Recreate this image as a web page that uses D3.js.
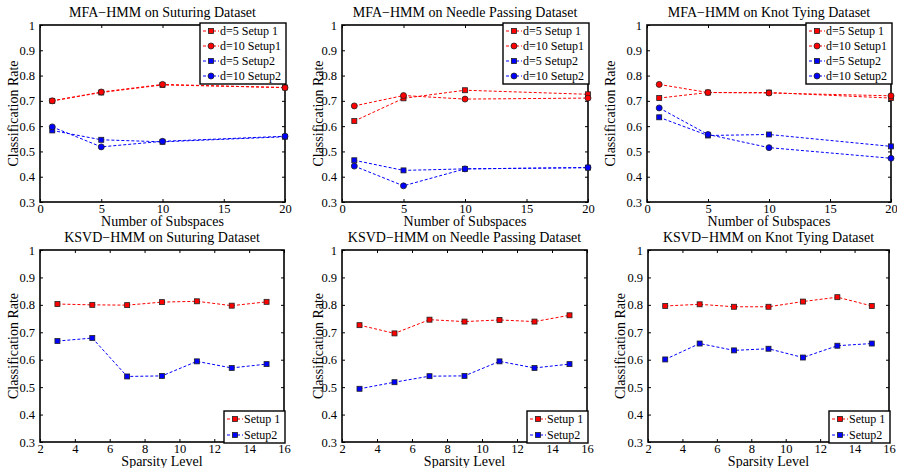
<!DOCTYPE html>
<html>
<head>
<meta charset="utf-8">
<script src="https://cdn.jsdelivr.net/npm/d3@7"></script>
<style>
  body { margin: 0; background: #fff; }
  text { font-family: "Liberation Serif", "Times New Roman", serif; fill: #000; }
</style>
</head>
<body>
<svg id="fig" width="897" height="468"></svg>
<script>
// x values
const subspaces = [1, 5, 10, 20];
const sparsity = [3, 5, 7, 9, 11, 13, 15];

const subspaceTicks = [0, 5, 10, 15, 20];
const sparsityTicks = [2, 4, 6, 8, 10, 12, 14, 16];
const rateTicks = [0.3, 0.4, 0.5, 0.6, 0.7, 0.8, 0.9, 1];

// MFA-HMM series
const mfaNames = ["d=5 Setup 1", "d=10 Setup1", "d=5 Setup2", "d=10 Setup2"];

const suturingD5S1 = [0.700, 0.733, 0.763, 0.753];
const suturingD10S1 = [0.700, 0.735, 0.765, 0.752];
const suturingD5S2 = [0.583, 0.546, 0.538, 0.558];
const suturingD10S2 = [0.597, 0.518, 0.540, 0.560];

const needleD5S1 = [0.620, 0.710, 0.742, 0.726];
const needleD10S1 = [0.680, 0.721, 0.707, 0.711];
const needleD5S2 = [0.465, 0.425, 0.431, 0.436];
const needleD10S2 = [0.442, 0.364, 0.431, 0.436];

const knotD5S1 = [0.711, 0.733, 0.733, 0.711];
const knotD10S1 = [0.765, 0.733, 0.731, 0.720];
const knotD5S2 = [0.635, 0.563, 0.567, 0.520];
const knotD10S2 = [0.672, 0.567, 0.515, 0.473];

// KSVD-HMM series
const ksvdNames = ["Setup 1", "Setup2"];

const ksvdSuturingS1 = [0.803, 0.800, 0.799, 0.810, 0.813, 0.797, 0.811];
const ksvdSuturingS2 = [0.668, 0.679, 0.539, 0.541, 0.594, 0.570, 0.584];

const ksvdNeedleS1 = [0.726, 0.696, 0.746, 0.739, 0.745, 0.739, 0.762];
const ksvdNeedleS2 = [0.494, 0.518, 0.540, 0.541, 0.594, 0.570, 0.584];

const ksvdKnotS1 = [0.796, 0.802, 0.793, 0.793, 0.812, 0.828, 0.796];
const ksvdKnotS2 = [0.601, 0.659, 0.634, 0.640, 0.608, 0.651, 0.659];

const red = "#ff0000", blue = "#0000ff";

const panels = [
  { title: "MFA\u2212HMM on Suturing Dataset", box: [40, 25, 285, 202], ylabX: 13,
    x: subspaces, xTicks: subspaceTicks, xDomain: [0, 20], xlabel: "Number of Subspaces",
    names: mfaNames, series: [suturingD5S1, suturingD10S1, suturingD5S2, suturingD10S2] },
  { title: "MFA\u2212HMM on Needle Passing Dataset", box: [342, 25, 588, 202], ylabX: 318,
    x: subspaces, xTicks: subspaceTicks, xDomain: [0, 20], xlabel: "Number of Subspaces",
    names: mfaNames, series: [needleD5S1, needleD10S1, needleD5S2, needleD10S2] },
  { title: "MFA\u2212HMM on Knot Tying Dataset", box: [647, 25, 891, 202], ylabX: 610,
    x: subspaces, xTicks: subspaceTicks, xDomain: [0, 20], xlabel: "Number of Subspaces",
    names: mfaNames, series: [knotD5S1, knotD10S1, knotD5S2, knotD10S2] },
  { title: "KSVD\u2212HMM on Suturing Dataset", box: [40, 250, 284, 442], ylabX: 13,
    x: sparsity, xTicks: sparsityTicks, xDomain: [2, 16], xlabel: "Sparsity Level",
    names: ksvdNames, series: [ksvdSuturingS1, ksvdSuturingS2] },
  { title: "KSVD\u2212HMM on Needle Passing Dataset", box: [342, 250, 587, 442], ylabX: 318,
    x: sparsity, xTicks: sparsityTicks, xDomain: [2, 16], xlabel: "Sparsity Level",
    names: ksvdNames, series: [ksvdNeedleS1, ksvdNeedleS2] },
  { title: "KSVD\u2212HMM on Knot Tying Dataset", box: [648, 250, 889, 442], ylabX: 620,
    x: sparsity, xTicks: sparsityTicks, xDomain: [2, 16], xlabel: "Sparsity Level",
    names: ksvdNames, series: [ksvdKnotS1, ksvdKnotS2] }
];

const svg = d3.select("#fig");

const drawMarker = (g, kind, color, cx, cy) => {
  if (kind === "circle") {
    g.append("circle").attr("cx", cx).attr("cy", cy).attr("r", 3)
      .attr("fill", color).attr("stroke", "#222").attr("stroke-width", 0.8);
  } else {
    g.append("rect").attr("x", cx - 2.5).attr("y", cy - 2.5).attr("width", 5).attr("height", 5)
      .attr("fill", color).attr("stroke", "#222").attr("stroke-width", 0.8);
  }
};

panels.forEach(p => {
  const [x0, y0, x1, y1] = p.box;
  const xScale = d3.scaleLinear().domain(p.xDomain).range([x0, x1]);
  const yScale = d3.scaleLinear().domain([0.3, 1]).range([y1, y0]);
  const g = svg.append("g");

  const fmtY = d => d === 1 ? "1" : d3.format(".1f")(d);

  // axes, ticks pointing inward
  const bottom = g.append("g").attr("transform", "translate(0," + y1 + ")")
    .call(d3.axisBottom(xScale).tickValues(p.xTicks).tickSize(-3).tickPadding(2).tickFormat(d3.format("d")));
  const left = g.append("g").attr("transform", "translate(" + x0 + ",0)")
    .call(d3.axisLeft(yScale).tickValues(rateTicks).tickSize(-3).tickPadding(5).tickFormat(fmtY));
  const top = g.append("g").attr("transform", "translate(0," + y0 + ")")
    .call(d3.axisTop(xScale).tickValues(p.xTicks).tickSize(-3).tickFormat(""));
  const right = g.append("g").attr("transform", "translate(" + x1 + ",0)")
    .call(d3.axisRight(yScale).tickValues(rateTicks).tickSize(-3).tickFormat(""));

  [bottom, left, top, right].forEach(a => {
    a.select(".domain").remove();
    a.attr("font-family", null);
    a.selectAll("line").attr("stroke", "#000").attr("stroke-width", 1);
    a.selectAll("text").attr("font-size", 12.5).attr("fill", "#000");
  });

  g.append("rect").attr("x", x0).attr("y", y0).attr("width", x1 - x0).attr("height", y1 - y0)
    .attr("fill", "none").attr("stroke", "#000").attr("stroke-width", 1.6);

  // series
  const line = d3.line().x((d, i) => xScale(p.x[i])).y(d => yScale(d));
  p.series.forEach((vals, k) => {
    const color = p.series.length === 4 ? (k < 2 ? red : blue) : (k === 0 ? red : blue);
    const kind = p.series.length === 4 && k % 2 === 1 ? "circle" : "square";
    g.append("path").datum(vals).attr("d", line).attr("fill", "none")
      .attr("stroke", color).attr("stroke-width", 1).attr("stroke-dasharray", "3,2");
    vals.forEach((v, i) => drawMarker(g, kind, color, xScale(p.x[i]), yScale(v)));
  });

  // titles and labels
  g.append("text").attr("x", (x0 + x1) / 2).attr("y", y0 - 8).attr("text-anchor", "middle")
    .attr("font-size", 14).text(p.title);
  g.append("text").attr("x", (x0 + x1) / 2).attr("y", y1 + 24).attr("text-anchor", "middle")
    .attr("font-size", 14).text(p.xlabel);
  g.append("text").attr("transform", "translate(" + (p.ylabX + 5) + "," + ((y0 + y1) / 2) + ") rotate(-90)")
    .attr("text-anchor", "middle").attr("font-size", 14).text("Classification Rate");

  // legend
  const n = p.names.length;
  const lw = n === 4 ? 86 : 61;
  const lh = n === 4 ? 61 : 32;
  const rowH = n === 4 ? 15 : 16;
  const lx = x1 - lw + 1;
  const ly = n === 4 ? y0 - 2 : y1 - lh + 1;
  const lg = g.append("g");
  lg.append("rect").attr("x", lx).attr("y", ly).attr("width", lw).attr("height", lh)
    .attr("fill", "#fff").attr("stroke", "#000").attr("stroke-width", 1.4);
  p.names.forEach((name, k) => {
    const color = n === 4 ? (k < 2 ? red : blue) : (k === 0 ? red : blue);
    const kind = n === 4 && k % 2 === 1 ? "circle" : "square";
    const cy = ly + 8 + k * rowH;
    lg.append("line").attr("x1", lx + 3).attr("x2", lx + 19).attr("y1", cy).attr("y2", cy)
      .attr("stroke", color).attr("stroke-width", 1).attr("stroke-dasharray", "3,2");
    drawMarker(lg, kind, color, lx + 11, cy);
    lg.append("text").attr("x", lx + 20).attr("y", cy).attr("dy", "0.35em")
      .attr("font-size", 12).text(name);
  });
});
</script>
</body>
</html>
